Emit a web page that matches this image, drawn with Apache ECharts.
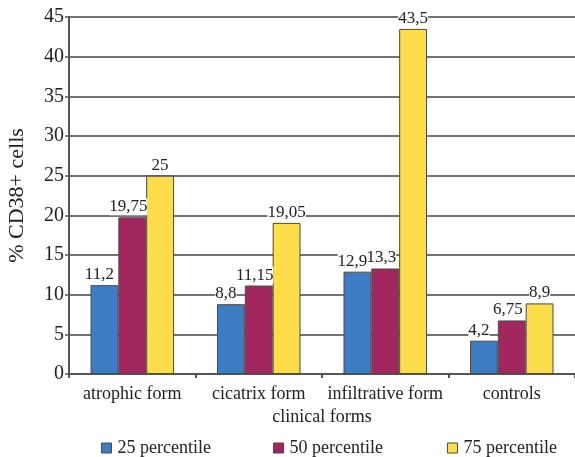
<!DOCTYPE html>
<html>
<head>
<meta charset="utf-8">
<script src="https://cdn.jsdelivr.net/npm/echarts@6/dist/echarts.min.js"></script>
<style>
  html, body { margin: 0; padding: 0; background: #fff; }
  #chart { width: 575px; height: 457px; }
</style>
</head>
<body>
<div id="chart"></div>
<script>
// CD38+ cell percentiles per clinical form
const categories = ['atrophic form', 'cicatrix form', 'infiltrative form', 'controls'];
const p25 = [11.2, 8.8, 12.9, 4.2];
const p50 = [19.75, 11.15, 13.3, 6.75];
const p75 = [25, 19.05, 43.5, 8.9];
const seriesNames = ['25 percentile', '50 percentile', '75 percentile'];
const yTicks = { min: 0, max: 45, interval: 5 };

const FONT = '"Liberation Serif", "Times New Roman", serif';
const colors = ['#3e7cc3', '#a2275f', '#fedd4a'];
const labelShift = [-5, -4, 0];

function fmt(v) { return String(v).replace('.', ','); }

function barSeries(idx, data) {
  return {
    name: seriesNames[idx],
    type: 'bar',
    data: data,
    z: idx === 0 ? 3 : 2,
    barGap: '0%',
    barCategoryGap: '34%',
    itemStyle: { color: colors[idx], borderColor: '#4a4a4a', borderWidth: 1 },
    label: {
      show: true,
      position: 'top',
      distance: 2,
      offset: [labelShift[idx], 0],
      formatter: p => fmt(p.value),
      fontFamily: FONT,
      fontSize: 17,
      color: '#222',
      backgroundColor: '#fff',
      padding: 0
    },
    emphasis: { disabled: true }
  };
}

const legendBase = {
  bottom: 0,
  padding: 0,
  itemWidth: 10,
  itemHeight: 10,
  icon: 'rect',
  itemGap: 0,
  itemStyle: { borderColor: '#4a4a4a', borderWidth: 1 },
  textStyle: { fontFamily: FONT, fontSize: 18, color: '#222', padding: [0, 0, 0, 1] },
  selectedMode: false
};

const chart = echarts.init(document.getElementById('chart'), null, { renderer: 'canvas' });
chart.setOption({
  animation: false,
  backgroundColor: '#fff',
  grid: { left: 69, right: 0, top: 17, bottom: 83, containLabel: false, outerBoundsMode: 'none' },
  legend: [
    Object.assign({}, legendBase, { left: 101, data: [seriesNames[0]] }),
    Object.assign({}, legendBase, { left: 273, data: [seriesNames[1]] }),
    Object.assign({}, legendBase, { left: 447, data: [seriesNames[2]] })
  ],
  xAxis: {
    type: 'category',
    data: categories,
    name: 'clinical forms',
    nameLocation: 'middle',
    nameGap: 30,
    nameTextStyle: { fontFamily: FONT, fontSize: 18, color: '#222' },
    axisLine: { lineStyle: { color: '#555', width: 2 } },
    axisTick: { show: true, length: 4, inside: false, lineStyle: { color: '#555', width: 2 } },
    axisLabel: { interval: 0, fontFamily: FONT, fontSize: 18, color: '#222', margin: 11 }
  },
  yAxis: {
    type: 'value',
    min: yTicks.min,
    max: yTicks.max,
    interval: yTicks.interval,
    name: '% CD38+ cells',
    nameLocation: 'middle',
    nameGap: 41,
    nameTextStyle: { fontFamily: FONT, fontSize: 22, color: '#222' },
    axisLine: { show: true, lineStyle: { color: '#555', width: 2 } },
    axisTick: { show: true, length: 4, lineStyle: { color: '#555', width: 1.5 } },
    axisLabel: { fontFamily: FONT, fontSize: 20, color: '#222', margin: 5 },
    splitLine: { show: true, lineStyle: { color: '#444', width: 1.5 } }
  },
  series: [
    barSeries(0, p25),
    barSeries(1, p50),
    barSeries(2, p75)
  ]
});
</script>
</body>
</html>
